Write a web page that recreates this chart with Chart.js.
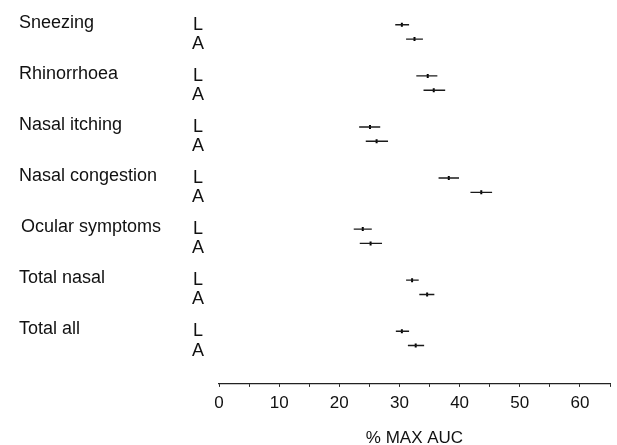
<!DOCTYPE html>
<html>
<head>
<meta charset="utf-8">
<script src="https://cdn.jsdelivr.net/npm/chart.js@4.4.1/dist/chart.umd.min.js"></script>
<style>
  body { margin: 0; background: #fff; }
  #wrap { width: 617px; height: 445px; position: relative; }
</style>
</head>
<body>
<div id="wrap"><canvas id="grafico"></canvas></div>
<script>
// symptom categories and the two treatment rows (L, A)
var categorie = ['Sneezing', 'Rhinorrhoea', 'Nasal itching', 'Nasal congestion', 'Ocular symptoms', 'Total nasal', 'Total all'];
var serie = ['L', 'A'];

// % max AUC: mean and interval ends
var mediaL = [30.4, 34.7, 25.1, 38.2, 23.9, 32.1, 30.4];
var bassoL = [29.3, 32.8, 23.3, 36.5, 22.4, 31.1, 29.4];
var altoL  = [31.6, 36.3, 26.8, 39.9, 25.4, 33.2, 31.6];

var mediaA = [32.5, 35.7, 26.2, 43.6, 25.2, 34.6, 32.7];
var bassoA = [31.1, 34.0, 24.4, 41.8, 23.4, 33.3, 31.4];
var altoA  = [33.9, 37.6, 28.1, 45.4, 27.1, 35.8, 34.1];

var tickX = [0, 10, 20, 30, 40, 50, 60];

const FONT = "'Liberation Sans', Arial, Helvetica, sans-serif";
const OFFSET_A = 0.28;   // A row sits just below the L row
const COLORE = '#1a1a1a';

var medie = [mediaL, mediaA];
var bassi = [bassoL, bassoA];
var alti = [altoL, altoA];

var datasets = [];

// horizontal interval lines
serie.forEach(function (nome, s) {
   categorie.forEach(function (cat, i) {
      var riga = i + (s == 1 ? OFFSET_A : 0);
      datasets.push({
         label: cat + ' ' + nome,
         data: [{ x: bassi[s][i], y: riga }, { x: alti[s][i], y: riga }],
         showLine: true,
         borderColor: COLORE,
         borderWidth: 1.4,
         pointRadius: 0
      });
   });
});

// mean markers
serie.forEach(function (nome, s) {
   datasets.push({
      label: nome,
      data: medie[s].map(function (v, i) {
         return { x: v, y: i + (s == 1 ? OFFSET_A : 0) };
      }),
      pointStyle: 'line',
      rotation: 90,
      pointRadius: 2,
      borderColor: '#000',
      borderWidth: 2
   });
});

const etichette = {
   id: 'etichette',
   afterDraw: function (chart) {
      const ctx = chart.ctx;
      const y = chart.scales.y;
      ctx.save();
      ctx.fillStyle = '#111';
      ctx.font = '18px ' + FONT;
      ctx.textBaseline = 'middle';
      ctx.textAlign = 'left';
      categorie.forEach(function (cat, i) {
         var yL = y.getPixelForValue(i);
         var yA = y.getPixelForValue(i + OFFSET_A);
         ctx.fillText(cat, i == 4 ? 21 : 19, yL - 2);
         ctx.fillText(serie[0], 193, yL);
         ctx.fillText(serie[1], 192, yA + 5);
      });
      ctx.restore();
   }
};

const ctx = document.getElementById('grafico').getContext('2d');
const grafico = new Chart(ctx, {
   type: 'scatter',
   data: { datasets: datasets },
   options: {
      responsive: true,
      maintainAspectRatio: false,
      animation: false,
      layout: { padding: { left: 219, right: 7, top: 10, bottom: 0 } },
      plugins: {
         legend: { display: false },
         tooltip: { enabled: false }
      },
      scales: {
         x: {
            type: 'linear',
            min: 0,
            max: 65,
            border: { display: true, color: '#222', width: 1.2 },
            grid: {
               display: true,
               drawOnChartArea: false,
               drawTicks: true,
               tickLength: 3,
               color: '#222',
               lineWidth: 1
            },
            ticks: {
               stepSize: 5,
               padding: 6,
               color: '#111',
               font: { family: FONT, size: 17 },
               maxRotation: 0,
               autoSkip: false,
               callback: function (v) {
                  return tickX.indexOf(v) >= 0 ? String(v) : '';
               }
            },
            title: {
               display: true,
               text: '% MAX AUC',
               color: '#111',
               font: { family: FONT, size: 17, lineHeight: 0.75 },
               padding: { top: 13, bottom: 0 }
            }
         },
         y: {
            type: 'linear',
            display: false,
            reverse: true,
            min: -0.29,
            max: 7.03
         }
      }
   },
   plugins: [etichette]
});
</script>
</body>
</html>
